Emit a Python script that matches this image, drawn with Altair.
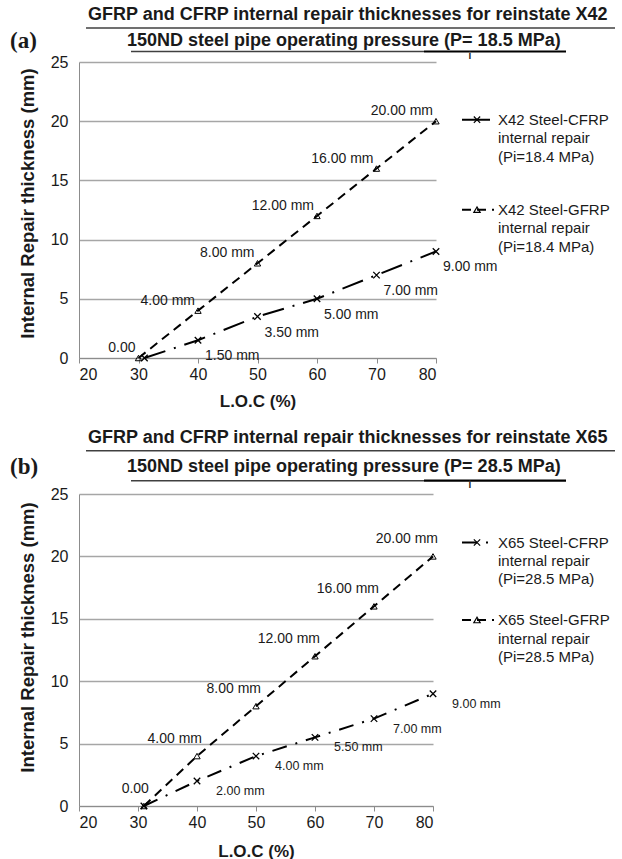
import altair as alt
import pandas as pd

# ---------------- data ----------------
x_ticks = [20, 30, 40, 50, 60, 70, 80]
y_ticks = [0, 5, 10, 15, 20, 25]

# panel (a) X42, Pi = 18.5 MPa
loc_a_cfrp = [31, 40, 50, 60, 70, 80]
thk_a_cfrp = [0, 1.5, 3.5, 5, 7, 9]
lbl_a_cfrp = ["", "1.50 mm", "3.50 mm", "5.00 mm", "7.00 mm", "9.00 mm"]
loc_a_gfrp = [30, 40, 50, 60, 70, 80]
thk_a_gfrp = [0, 4, 8, 12, 16, 20]
lbl_a_gfrp = ["0.00", "4.00 mm", "8.00 mm", "12.00 mm", "16.00 mm", "20.00 mm"]

# panel (b) X65, Pi = 28.5 MPa
loc_b_cfrp = [31, 40, 50, 60, 70, 80]
thk_b_cfrp = [0, 2, 4, 5.5, 7, 9]
lbl_b_cfrp = ["", "2.00 mm", "4.00 mm", "5.50 mm", "7.00 mm", "9.00 mm"]
loc_b_gfrp = [31, 40, 50, 60, 70, 80]
thk_b_gfrp = [0, 4, 8, 12, 16, 20]
lbl_b_gfrp = ["0.00", "4.00 mm", "8.00 mm", "12.00 mm", "16.00 mm", "20.00 mm"]

title1_a = "GFRP and CFRP internal  repair thicknesses for reinstate X42"
title2_a = "150ND steel pipe  operating pressure (P= 18.5 MPa)"
title1_b = "GFRP and CFRP internal  repair thicknesses for reinstate X65"
title2_b = "150ND steel pipe  operating pressure (P= 28.5 MPa)"
legend_a_cfrp = ["X42 Steel-CFRP", "internal repair", "(Pi=18.4 MPa)"]
legend_a_gfrp = ["X42 Steel-GFRP", "internal repair", "(Pi=18.4 MPa)"]
legend_b_cfrp = ["X65 Steel-CFRP", "internal repair", "(Pi=28.5 MPa)"]
legend_b_gfrp = ["X65 Steel-GFRP", "internal repair", "(Pi=28.5 MPa)"]

FONT = "Liberation Sans"
XPATH = "M-1,-1L1,1M-1,1L1,-1"
GRID = "#a6a6a6"
AXC = "#8c8c8c"
TXT = "#1a1a1a"
one = pd.DataFrame({"d": [0]})

T1_LEFT, T1_W = 9, 525      # title line 1 start (relative to plot left) and width
T2_LEFT, T2_W = 48, 433     # title line 2 start and width
P_OFF = 340                 # offset of the end of "(P" in line 2


def series_df(loc, thk, lbl):
    return pd.DataFrame({"loc": loc, "thk": thk, "lbl": lbl})


def panel(W, H, c_loc, c_thk, c_lbl, g_loc, g_thk, g_lbl, cfg):
    xenc = alt.X("loc:Q", scale=alt.Scale(domain=[20, 80], nice=False, zero=False),
                 axis=alt.Axis(values=x_ticks, grid=False, domainColor=AXC, tickColor=AXC,
                               tickSize=5, labelPadding=3, labelFontSize=16, labelColor=TXT,
                               labelFont=FONT, title="L.O.C (%)", titleFont=FONT,
                               titleFontSize=17, titleFontWeight="bold", titleColor=TXT,
                               titleBaseline="middle", titleY=cfg["xtitle_y"],
                               titleX=W / 2))
    yenc = alt.Y("thk:Q", scale=alt.Scale(domain=[0, 25], nice=False),
                 axis=alt.Axis(values=y_ticks, grid=True, gridColor=GRID, gridWidth=1.3,
                               domainColor=AXC, ticks=False, tickSize=0, labelPadding=11,
                               labelFontSize=16, labelColor=TXT, labelFont=FONT,
                               title="Internal Repair thickness (mm)", titleFont=FONT,
                               titleFontSize=18.5, titleFontWeight="bold", titleColor=TXT,
                               titleX=-52, titleY=cfg["ytitle_y"], titleBaseline="middle",
                               titleAngle=-90))
    cdf = series_df(c_loc, c_thk, c_lbl)
    gdf = series_df(g_loc, g_thk, g_lbl)

    layers = []
    layers.append(alt.Chart(gdf).mark_line(color="black", strokeWidth=2, strokeDash=[9, 6])
                  .encode(x=xenc, y=yenc))
    layers.append(alt.Chart(cdf).mark_line(color="black", strokeWidth=2, strokeDash=cfg["cdash"])
                  .encode(x=xenc, y=yenc))
    layers.append(alt.Chart(gdf).mark_point(shape="triangle-up", size=40, filled=False,
                                            color="black", strokeWidth=1, opacity=1)
                  .encode(x=xenc, y=yenc))
    layers.append(alt.Chart(cdf).mark_point(shape=XPATH, size=42, filled=False,
                                            color="black", strokeWidth=1.3, opacity=1)
                  .encode(x=xenc, y=yenc))
    layers.append(alt.Chart(gdf).mark_text(align="right", baseline="middle", dx=cfg["g_dx"],
                                           dy=cfg["g_dy"], fontSize=14, font=FONT, color=TXT)
                  .encode(x=xenc, y=yenc, text="lbl:N"))
    layers.append(alt.Chart(cdf).mark_text(align="left", baseline="middle", dx=cfg["c_dx"],
                                           dy=cfg["c_dy"], fontSize=cfg["c_fs"], font=FONT,
                                           color=TXT)
                  .encode(x=xenc, y=yenc, text="lbl:N"))

    # titles
    t1y, u1y, t2y, u2y = cfg["t1y"], cfg["u1y"], cfg["t2y"], cfg["u2y"]
    layers.append(alt.Chart(one).mark_text(text=cfg["title1"], align="left", baseline="middle",
                                           fontSize=18, fontWeight="bold", font=FONT,
                                           color=TXT)
                  .encode(x=alt.value(T1_LEFT), y=alt.value(t1y)))
    layers.append(alt.Chart(one).mark_rule(color="#404040", strokeWidth=1.6)
                  .encode(x=alt.value(T1_LEFT - 2), x2=alt.value(T1_LEFT + T1_W + 2),
                          y=alt.value(u1y)))
    layers.append(alt.Chart(one).mark_text(text=cfg["title2"], align="left", baseline="middle",
                                           fontSize=18, fontWeight="bold", font=FONT,
                                           color=TXT)
                  .encode(x=alt.value(T2_LEFT), y=alt.value(t2y)))
    layers.append(alt.Chart(one).mark_rule(color="#404040", strokeWidth=1.4)
                  .encode(x=alt.value(T2_LEFT + 4), x2=alt.value(T2_LEFT + P_OFF - 43),
                          y=alt.value(u2y)))
    layers.append(alt.Chart(one).mark_rule(color="black", strokeWidth=2.2)
                  .encode(x=alt.value(T2_LEFT + P_OFF - 43), x2=alt.value(T2_LEFT + T2_W + 6),
                          y=alt.value(u2y)))
    layers.append(alt.Chart(one).mark_text(text="i", align="center", baseline="top",
                                           fontSize=10, fontWeight="bold", font=FONT,
                                           color=TXT)
                  .encode(x=alt.value(T2_LEFT + P_OFF + 3), y=alt.value(u2y - 0.5)))
    layers.append(alt.Chart(one).mark_text(text=cfg["tag"], align="left", baseline="middle",
                                           fontSize=23, fontWeight="bold",
                                           font="Liberation Serif", color=TXT)
                  .encode(x=alt.value(-69), y=alt.value(t2y)))

    # legend
    for (ly, ltext, dash, shape, lh, seg) in cfg["legend"]:
        layers.append(alt.Chart(one).mark_rule(color="black", strokeWidth=2, strokeDash=dash)
                      .encode(x=alt.value(seg[0]), x2=alt.value(seg[1]), y=alt.value(ly)))
        layers.append(alt.Chart(one).mark_point(shape=shape, size=40, filled=False,
                                                color="black", strokeWidth=1.2, opacity=1)
                      .encode(x=alt.value(398), y=alt.value(ly)))
        layers.append(alt.Chart(one).mark_text(text=ltext, align="left", baseline="middle",
                                               lineHeight=lh, fontSize=15, font=FONT,
                                               color=TXT)
                      .encode(x=alt.value(419), y=alt.value(ly)))

    if cfg.get("anchor"):
        layers.append(alt.Chart(one).mark_rect(opacity=0)
                      .encode(x=alt.value(-79), x2=alt.value(-78),
                              y=alt.value(-62), y2=alt.value(-61)))

    return alt.layer(*layers).properties(width=W, height=H)


cfg_a = dict(cdash=[22, 9, 2, 9], g_dx=-3, g_dy=-10, c_dx=7, c_dy=16, c_fs=14,
             title1=title1_a, title2=title2_a, tag="(a)",
             t1y=-47, u1y=-34, t2y=-21.5, u2y=-10.5,
             xtitle_y=43, ytitle_y=141,
             legend=[(57.7, legend_a_cfrp, [1, 0], XPATH, 18.5, (383, 411)),
                     (147.7, legend_a_gfrp, [9, 6], "triangle-up", 18.5, (383, 415))],
             anchor=True)
cfg_b = dict(cdash=[15, 9, 2, 9], g_dx=5, g_dy=-17, c_dx=19, c_dy=10, c_fs=12.5,
             title1=title1_b, title2=title2_b, tag="(b)",
             t1y=-55.7, u1y=-43.3, t2y=-27.3, u2y=-13.3,
             xtitle_y=45, ytitle_y=143,
             legend=[(48.5, legend_b_cfrp, [15, 9, 2, 9], XPATH, 18, (383, 415)),
                     (126, legend_b_gfrp, [9, 6], "triangle-up", 18.5, (383, 415))])

pa = panel(357, 296, loc_a_cfrp, thk_a_cfrp, lbl_a_cfrp, loc_a_gfrp, thk_a_gfrp, lbl_a_gfrp, cfg_a)
pb = panel(354, 312, loc_b_cfrp, thk_b_cfrp, lbl_b_cfrp, loc_b_gfrp, thk_b_gfrp, lbl_b_gfrp, cfg_b)

chart = (alt.vconcat(pa, pb, spacing=136, bounds="flush")
         .properties(padding=0, background="white")
         .configure_view(stroke=None))

chart.save("out.html", embed_options={"renderer": "svg", "actions": False})
